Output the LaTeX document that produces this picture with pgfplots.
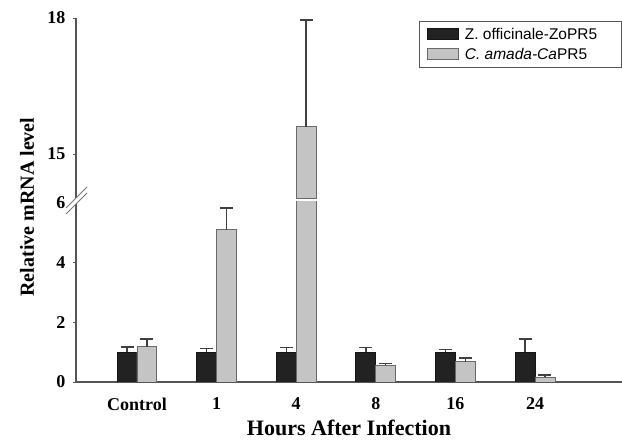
\documentclass[border=0pt]{standalone}
\usepackage{fontspec}
\setmainfont{Liberation Serif}
\newfontfamily\legfont{Liberation Sans}
\usepackage{pgfplots}
\usepackage{pgfplotstable}
\pgfplotsset{compat=1.18}
\definecolor{barblack}{HTML}{222222}
\definecolor{barblackedge}{HTML}{151515}
\definecolor{bargray}{HTML}{C4C4C4}
\definecolor{bargrayedge}{HTML}{6A6A6A}
\definecolor{axisgray}{HTML}{555555}
\definecolor{errcol}{HTML}{404040}

\pgfplotstableread{
x y e
-0.125 1.00 0.17
0.875 1.00 0.13
1.875 1.00 0.15
2.875 1.00 0.15
3.875 1.00 0.09
4.875 1.00 0.44
}\zo
\pgfplotstableread{
x y e
0.125 1.18 0.26
1.125 5.10 0.72
2.125 15.60 2.36
3.125 0.56 0.06
4.125 0.68 0.12
5.125 0.17 0.06
}\ca

\pgfplotsset{
  mybar/.style={ybar, bar width=0.25, bar shift=0pt, line width=0.8bp},
  myerr/.style={/pgfplots/error bars/.cd, y dir=plus, y explicit,
     error bar style={line width=1.4bp, color=errcol},
     error mark options={rotate=90, mark size=6.5bp, line width=1.4bp, color=errcol}, /pgfplots/.cd},
  common/.style={scale only axis, width=546bp, xmin=-0.766, xmax=6.093,
     axis line style={-, axisgray, line width=1.2bp},
     /pgf/number format/assume math mode=true,
     tick label style={font=\fontsize{18bp}{20bp}\selectfont\bfseries},
     yticklabel style={xshift=-4bp},
     tick style={axisgray, line width=0.8bp},
     major tick length=3bp},
  legimg/.style={legend image code/.code={\draw[##1, line width=0.6bp] (0bp,-5bp) rectangle (31bp,6bp);}},
}

\begin{document}
\begin{tikzpicture}
\useasboundingbox (0,0) rectangle (622bp,440bp);
% lower part
\begin{axis}[common, at={(76bp,58bp)}, anchor=south west, height=180bp,
  ymin=0, ymax=6.02,
  axis lines*=left,
  ytick={0,2,4,6},
  xtick={0,1,2,3,4,5},
  xticklabels={Control,1,4,8,16,24},
  x tick style={draw=none},
  extra x ticks={0.25,1.25,2.25,3.25,4.25,5.25},
  extra x tick labels={},
  extra x tick style={tick style={axisgray, line width=0.6bp}, tick align=center, major tick length=6bp},
  tick align=outside,
  xticklabel style={yshift=-9bp},
  xlabel={Hours After Infection},
  xlabel style={at={(axis description cs:0.5,-0.256)}, anchor=center, font=\fontsize{22bp}{24bp}\selectfont\bfseries},
  ylabel={Relative mRNA level},
  ylabel style={at={(axis description cs:-0.0897,0.972)}, anchor=center, font=\fontsize{20bp}{22bp}\selectfont\bfseries},
  legend style={at={(axis description cs:0.628,2.006)}, anchor=north west,
     draw=axisgray, line width=0.8bp,
     font=\legfont\fontsize{15.5bp}{17bp}\selectfont,
     inner xsep=8bp, inner ysep=5bp, row sep=3bp,
     cells={anchor=west},
     /tikz/every odd column/.append style={column sep=4bp}},
]
\addplot[mybar, fill=barblack, draw=barblackedge, legimg, myerr] table[x=x, y=y, y error=e] {\zo};
\addlegendentry{Z. officinale-ZoPR5\kern14bp}
\addplot[mybar, fill=bargray, draw=bargrayedge, legimg, myerr] table[x=x, y=y, y error=e] {\ca};
\addlegendentry{\textit{C. amada-Ca}PR5}
\end{axis}
% upper part
\begin{axis}[common, at={(76bp,241.5bp)}, anchor=south west, height=180.5bp,
  ymin=14.02, ymax=18,
  axis x line=none, axis y line*=left,
  ytick={15,18}, tick align=outside,
]
\addplot[mybar, fill=bargray, draw=bargrayedge, restrict y to domain=10:30, myerr] table[x=x, y=y, y error=e] {\ca};
\end{axis}
% axis break mark
\fill[white] (66bp,226bp) -- (87bp,247bp) -- (87bp,253bp) -- (66bp,232bp) -- cycle;
\draw[axisgray!80, line width=0.8bp] (66bp,226bp) -- (87bp,247bp);
\draw[axisgray!80, line width=0.8bp] (66bp,232bp) -- (87bp,253bp);
\end{tikzpicture}
\end{document}
